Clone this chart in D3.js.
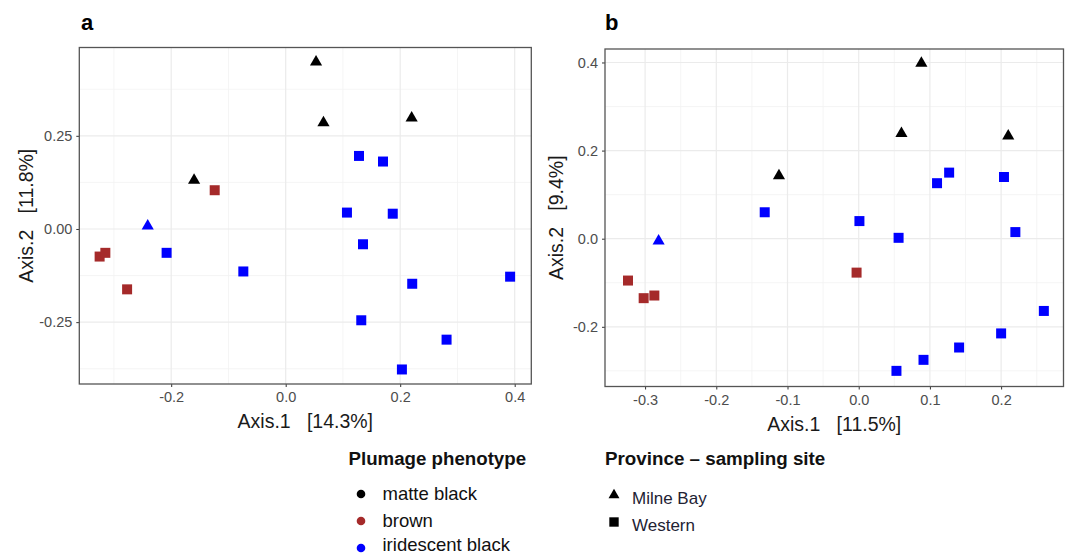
<!DOCTYPE html>
<html><head><meta charset="utf-8">
<script src="https://cdn.jsdelivr.net/npm/d3@7"></script>
<style>
html,body{margin:0;padding:0;background:#fff;}
text{font-family:"Liberation Sans",Arial,sans-serif;}
</style></head>
<body>
<svg id="chart" width="1071" height="555"></svg>
<script>
// ---- data ----
const phenotypes = ["matte black", "brown", "iridescent black"];
const phenoColors = ["#000000", "#A52A2A", "#0000FF"];
const sites = ["Milne Bay", "Western"];

// panel a
const aX = [0.053, 0.066, 0.220, -0.160, -0.241, -0.124, -0.325, -0.315, -0.277,
            0.128, 0.170, 0.107, 0.187, 0.135, -0.208, -0.074, 0.392, 0.221, 0.132, 0.281, 0.203];
const aY = [0.448, 0.285, 0.298, 0.131, 0.008, 0.104, -0.074, -0.064, -0.162,
            0.196, 0.181, 0.044, 0.041, -0.041, -0.064, -0.114, -0.128, -0.147, -0.245, -0.297, -0.377];
const aPheno = ["matte black","matte black","matte black","matte black","iridescent black",
  "brown","brown","brown","brown",
  "iridescent black","iridescent black","iridescent black","iridescent black","iridescent black","iridescent black",
  "iridescent black","iridescent black","iridescent black","iridescent black","iridescent black","iridescent black"];
const aSite = ["Milne Bay","Milne Bay","Milne Bay","Milne Bay","Milne Bay",
  "Western","Western","Western","Western","Western","Western","Western","Western","Western","Western",
  "Western","Western","Western","Western","Western","Western"];
const aXTicks = [-0.2, 0.0, 0.2, 0.4];
const aXMinor = [-0.3, -0.1, 0.1, 0.3];
const aYTicks = [-0.25, 0.00, 0.25];
const aYMinor = [-0.375, -0.125, 0.125, 0.375];
const aXDomain = [-0.3605, 0.429];
const aYDomain = [-0.416, 0.487];

// panel b
const bX = [0.088, 0.060, 0.210, -0.112, -0.281, -0.003, -0.324, -0.302, -0.287,
            -0.132, 0.001, 0.056, 0.110, 0.127, 0.204, 0.220, 0.260, 0.200, 0.141, 0.091, 0.053];
const bY = [0.398, 0.239, 0.233, 0.143, -0.005, -0.077, -0.095, -0.135, -0.129,
            0.060, 0.040, 0.002, 0.126, 0.150, 0.140, 0.015, -0.164, -0.215, -0.247, -0.275, -0.300];
const bPheno = aPheno.slice();
const bSite = aSite.slice();
const bXTicks = [-0.3, -0.2, -0.1, 0.0, 0.1, 0.2];
const bXMinor = [-0.25, -0.15, -0.05, 0.05, 0.15, 0.25];
const bYTicks = [-0.2, 0.0, 0.2, 0.4];
const bYMinor = [-0.3, -0.1, 0.1, 0.3];
const bXDomain = [-0.3563, 0.2876];
const bYDomain = [-0.3355, 0.4306];

const svg = d3.select("#chart");
const color = d3.scaleOrdinal().domain(phenotypes).range(phenoColors);

function panel(opts) {
  const x = d3.scaleLinear().domain(opts.xDomain).range([opts.left, opts.right]);
  const y = d3.scaleLinear().domain(opts.yDomain).range([opts.bottom, opts.top]);
  const g = svg.append("g");
  // minor grid
  g.selectAll(".vmin").data(opts.xMinor).enter().append("line")
    .attr("x1", d => x(d)).attr("x2", d => x(d)).attr("y1", opts.top).attr("y2", opts.bottom)
    .attr("stroke", "#f2f2f2").attr("stroke-width", 0.8);
  g.selectAll(".hmin").data(opts.yMinor).enter().append("line")
    .attr("y1", d => y(d)).attr("y2", d => y(d)).attr("x1", opts.left).attr("x2", opts.right)
    .attr("stroke", "#f2f2f2").attr("stroke-width", 0.8);
  // major grid
  g.selectAll(".vmaj").data(opts.xTicks).enter().append("line")
    .attr("x1", d => x(d)).attr("x2", d => x(d)).attr("y1", opts.top).attr("y2", opts.bottom)
    .attr("stroke", "#ebebeb").attr("stroke-width", 1.2);
  g.selectAll(".hmaj").data(opts.yTicks).enter().append("line")
    .attr("y1", d => y(d)).attr("y2", d => y(d)).attr("x1", opts.left).attr("x2", opts.right)
    .attr("stroke", "#ebebeb").attr("stroke-width", 1.2);

  // axes
  const xa = g.append("g").attr("transform", `translate(0,${opts.bottom})`)
    .call(d3.axisBottom(x).tickValues(opts.xTicks).tickFormat(opts.xFmt).tickSize(3).tickPadding(5));
  const ya = g.append("g").attr("transform", `translate(${opts.left},0)`)
    .call(d3.axisLeft(y).tickValues(opts.yTicks).tickFormat(opts.yFmt).tickSize(3).tickPadding(4));
  [xa, ya].forEach(a => {
    a.select(".domain").remove();
    a.selectAll(".tick line").attr("stroke", "#333333");
    a.selectAll(".tick text").attr("fill", "#4d4d4d").style("font-size", "14.5px")
      .style("font-family", "'Liberation Sans', Arial, sans-serif");
  });
  xa.selectAll(".tick text").text(d => opts.xFmt(d).replace("−", "-"));
  ya.selectAll(".tick text").text(d => opts.yFmt(d).replace("−", "-"));

  // points
  const idx = d3.range(opts.xs.length);
  g.selectAll(".pt").data(idx).enter().append("path")
    .attr("transform", i => `translate(${x(opts.xs[i])},${y(opts.ys[i])})`)
    .attr("d", i => opts.site[i] === "Milne Bay"
      ? d3.symbol(d3.symbolTriangle, 64)()
      : d3.symbol(d3.symbolSquare, 100)())
    .attr("fill", i => color(opts.pheno[i]));

  // border
  g.append("rect").attr("x", opts.left).attr("y", opts.top)
    .attr("width", opts.right - opts.left).attr("height", opts.bottom - opts.top)
    .attr("fill", "none").attr("stroke", "#555555").attr("stroke-width", 1.3);

  // titles
  g.append("text").attr("x", (opts.left + opts.right) / 2).attr("y", opts.bottom + 44)
    .attr("text-anchor", "middle").style("font-size", "19.5px").attr("fill", "#1a1a1a")
    .style("white-space", "pre")
    .text(opts.xTitle);
  g.append("text")
    .attr("transform", `translate(${opts.yTitleX},${(opts.top + opts.bottom) / 2}) rotate(-90)`)
    .attr("text-anchor", "middle").style("font-size", "19.5px").attr("fill", "#1a1a1a")
    .style("white-space", "pre")
    .text(opts.yTitle);
  g.append("text").attr("x", opts.labelX).attr("y", 30)
    .style("font-size", "22px").style("font-weight", "bold").attr("fill", "#000")
    .text(opts.label);
}

panel({
  left: 79.3, right: 531.3, top: 47.5, bottom: 384,
  xDomain: aXDomain, yDomain: aYDomain,
  xTicks: aXTicks, xMinor: aXMinor, yTicks: aYTicks, yMinor: aYMinor,
  xFmt: d3.format(".1f"), yFmt: d3.format(".2f"),
  xs: aX, ys: aY, pheno: aPheno, site: aSite,
  xTitle: "Axis.1   [14.3%]", yTitle: "Axis.2   [11.8%]", yTitleX: 33,
  label: "a", labelX: 81
});
panel({
  left: 605, right: 1063.5, top: 49, bottom: 386.5,
  xDomain: bXDomain, yDomain: bYDomain,
  xTicks: bXTicks, xMinor: bXMinor, yTicks: bYTicks, yMinor: bYMinor,
  xFmt: d3.format(".1f"), yFmt: d3.format(".1f"),
  xs: bX, ys: bY, pheno: bPheno, site: bSite,
  xTitle: "Axis.1   [11.5%]", yTitle: "Axis.2   [9.4%]", yTitleX: 563,
  label: "b", labelX: 605
});

// legends
const lg1 = svg.append("g");
lg1.append("text").attr("x", 348.5).attr("y", 465).style("font-size", "18.7px")
  .style("font-weight", "bold").attr("fill", "#111").text("Plumage phenotype");
const phenoY = [494, 521, 548];
const textY = [500, 527, 551];
lg1.selectAll(".ld").data(phenotypes).enter().append("circle")
  .attr("cx", 361).attr("cy", (d, i) => phenoY[i]).attr("r", 4.3)
  .attr("fill", d => color(d));
lg1.selectAll(".lt").data(phenotypes).enter().append("text")
  .attr("x", 382.5).attr("y", (d, i) => textY[i]).style("font-size", "18.5px")
  .attr("fill", "#111").text(d => d);

const lg2 = svg.append("g");
lg2.append("text").attr("x", 605).attr("y", 465).style("font-size", "18.8px")
  .style("font-weight", "bold").attr("fill", "#111").text("Province – sampling site");
const siteY = [495, 522];
const siteTextY = [504, 531];
lg2.selectAll(".ls").data(sites).enter().append("path")
  .attr("transform", (d, i) => `translate(614,${siteY[i]})`)
  .attr("d", d => d === "Milne Bay" ? d3.symbol(d3.symbolTriangle, 52)() : d3.symbol(d3.symbolSquare, 88)())
  .attr("fill", "#000");
lg2.selectAll(".lst").data(sites).enter().append("text")
  .attr("x", 632).attr("y", (d, i) => siteTextY[i]).style("font-size", "17px")
  .attr("fill", "#222233").text(d => d);
</script>
</body></html>
